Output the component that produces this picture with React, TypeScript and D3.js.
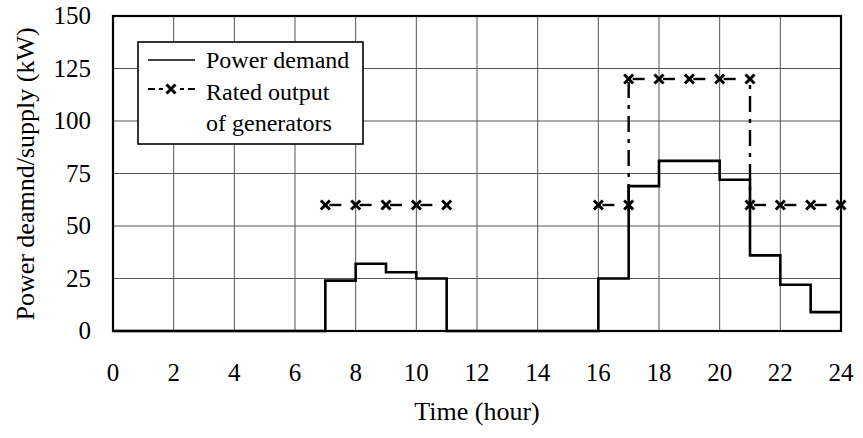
import React from 'react'
import * as d3 from 'd3'

const WIDTH = 863
const HEIGHT = 438
const LEFT = 113
const RIGHT = 841
const TOP = 16
const BOTTOM = 331

// hourly power demand (kW), hour 0..23
const demand = [0, 0, 0, 0, 0, 0, 0, 24, 32, 28, 25, 0, 0, 0, 0, 0, 25, 69, 81, 81, 72, 36, 22, 9]

// rated output of generators, points in drawing order
const ratedHours = [7, 8, 9, 10, 11, 16, 17, 17, 18, 19, 20, 21, 21, 22, 23, 24]
const ratedValues = [60, 60, 60, 60, 60, 60, 60, 120, 120, 120, 120, 120, 60, 60, 60, 60]

const xTicks = [0, 2, 4, 6, 8, 10, 12, 14, 16, 18, 20, 22, 24]
const yTicks = [0, 25, 50, 75, 100, 125, 150]

const FONT = '"Liberation Serif", "DejaVu Serif", serif'

const Cross = ({ x, y }) => (
  <g stroke="black" strokeWidth={3}>
    <line x1={x - 4.5} x2={x + 4.5} y1={y - 4.5} y2={y + 4.5} />
    <line x1={x - 4.5} x2={x + 4.5} y1={y + 4.5} y2={y - 4.5} />
  </g>
)

const App = () => {
  const xScale = d3.scaleLinear().domain([0, 24]).range([LEFT, RIGHT])
  const yScale = d3.scaleLinear().domain([0, 150]).range([BOTTOM, TOP])

  const demandPts = demand.map((v, i) => [i, v])
  demandPts.push([24, demand[demand.length - 1]])
  const demandLine = d3.line()
    .x(d => xScale(d[0]))
    .y(d => yScale(d[1]))
    .curve(d3.curveStepAfter)

  const segments = []
  for (let i = 0; i < ratedHours.length - 1; i++) {
    const h0 = ratedHours[i], h1 = ratedHours[i + 1]
    if (h1 - h0 > 1) continue
    segments.push({ h0, h1, v0: ratedValues[i], v1: ratedValues[i + 1] })
  }

  return (
    <svg width={WIDTH} height={HEIGHT} style={{ position: 'absolute', left: 0, top: 0, background: 'white' }}
      fontFamily={FONT}>
      {/* grid */}
      <g stroke="#555" strokeWidth={1}>
        {xTicks.map(t => (
          <line key={'x' + t} x1={xScale(t)} x2={xScale(t)} y1={TOP} y2={BOTTOM} />
        ))}
        {yTicks.map(t => (
          <line key={'y' + t} x1={LEFT} x2={RIGHT} y1={yScale(t)} y2={yScale(t)} />
        ))}
      </g>

      {/* power demand */}
      <path d={demandLine(demandPts)} fill="none" stroke="black" strokeWidth={2.6} />

      {/* rated output */}
      <g stroke="black" strokeWidth={2.4} fill="none">
        {segments.map((s, i) => s.h0 === s.h1 ? (
          <line key={i} x1={xScale(s.h0)} x2={xScale(s.h1)} y1={yScale(s.v0) + 6} y2={yScale(s.v1) - 4}
            strokeDasharray="4,7,16,7" />
        ) : (
          <line key={i} x1={xScale(s.h0) + 4} x2={xScale(s.h0) + 16} y1={yScale(s.v0)} y2={yScale(s.v1)} />
        ))}
      </g>
      {ratedHours.map((h, i) => (
        <Cross key={i} x={xScale(h)} y={yScale(ratedValues[i])} />
      ))}

      {/* frame */}
      <rect x={LEFT} y={TOP} width={RIGHT - LEFT} height={BOTTOM - TOP} fill="none" stroke="black" strokeWidth={2.2} />

      {/* legend */}
      <rect x={138} y={42} width={225} height={102} fill="white" stroke="black" strokeWidth={1.6} />
      <line x1={148} x2={195} y1={60} y2={60} stroke="black" strokeWidth={1.6} />
      <g stroke="black" strokeWidth={2}>
        <line x1={148} x2={155} y1={89} y2={89} />
        <line x1={159} x2={163} y1={89} y2={89} />
        <line x1={180} x2={184} y1={89} y2={89} />
        <line x1={188} x2={195} y1={89} y2={89} />
      </g>
      <Cross x={171} y={89} />
      <g fontSize={24} fill="black">
        <text x={206} y={68}>Power demand</text>
        <text x={206} y={100}>Rated output</text>
        <text x={206} y={131}>of generators</text>
      </g>

      {/* axes labels */}
      <g fontSize={25} fill="black">
        {xTicks.map(t => (
          <text key={t} x={xScale(t)} y={381} textAnchor="middle">{t}</text>
        ))}
        {yTicks.map(t => (
          <text key={t} x={91} y={yScale(t)} dy="0.33em" textAnchor="end">{t}</text>
        ))}
      </g>
      <text x={xScale(12)} y={420} textAnchor="middle" fontSize={26}>Time (hour)</text>
      <text transform={`translate(34, 174) rotate(-90)`} textAnchor="middle" fontSize={26}>
        Power deamnd/supply (kW)
      </text>
    </svg>
  )
}

export default App
